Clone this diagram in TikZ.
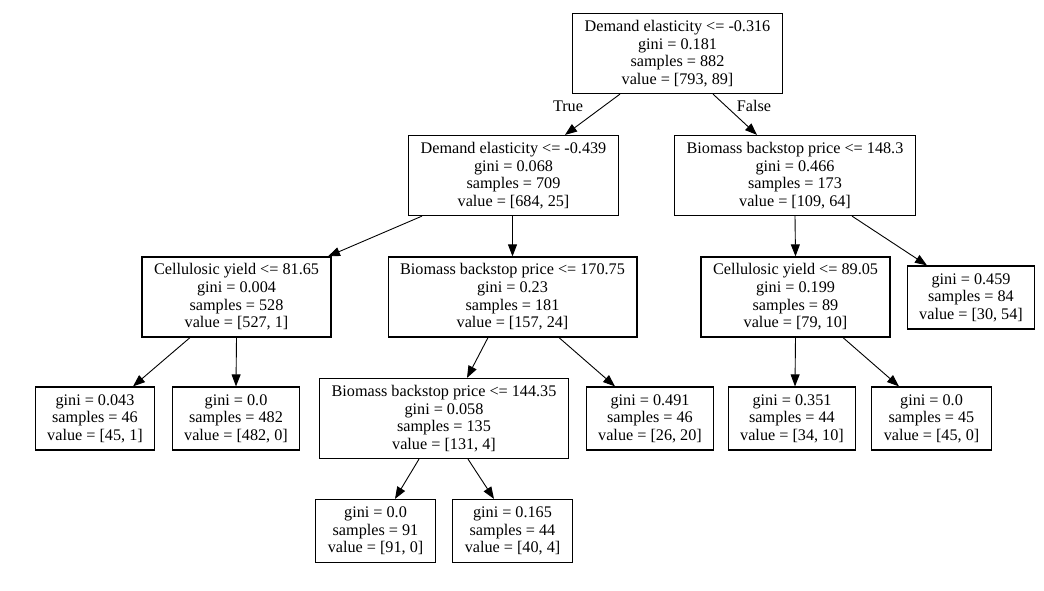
\documentclass[tikz,border=0pt]{standalone}
\usepackage{fontspec}
\setmainfont{Liberation Serif}
\usetikzlibrary{arrows.meta}

\begin{document}
\begin{tikzpicture}[x=1pt, y=-1pt,
    split/.style={draw=black, line width=1.2pt, align=center, inner xsep=12pt, minimum height=80pt, font=\fontsize{16.2}{17.6}\selectfont},
    leaf/.style={split, minimum height=63pt},
    edge/.style={line width=0.9pt, -{Triangle[length=12pt, width=9pt]}},
    lbl/.style={font=\fontsize{16.2}{17}\selectfont}]
\useasboundingbox (0,0) rectangle (1044,591);

% level 0
\node[split] (root) at (677.5,53.5) {Demand elasticity <= -0.316\\gini = 0.181\\samples = 882\\value = [793, 89]};

% level 1
\node[split] (dem2) at (513.5,175.5) {Demand elasticity <= -0.439\\gini = 0.068\\samples = 709\\value = [684, 25]};
\node[split] (bio1) at (795,175.5) {Biomass backstop price <= 148.3\\gini = 0.466\\samples = 173\\value = [109, 64]};

% level 2
\node[split] (cel1) at (236.5,297) {Cellulosic yield <= 81.65\\gini = 0.004\\samples = 528\\value = [527, 1]};
\node[split] (bio2) at (512.5,297) {Biomass backstop price <= 170.75\\gini = 0.23\\samples = 181\\value = [157, 24]};
\node[split] (cel2) at (795.5,297) {Cellulosic yield <= 89.05\\gini = 0.199\\samples = 89\\value = [79, 10]};
\node[leaf] (leaf84) at (971,297.5) {gini = 0.459\\samples = 84\\value = [30, 54]};

% level 3
\node[leaf] (leaf46a) at (95,418.5) {gini = 0.043\\samples = 46\\value = [45, 1]};
\node[leaf] (leaf482) at (236,418.5) {gini = 0.0\\samples = 482\\value = [482, 0]};
\node[split] (bio3) at (444,418.5) {Biomass backstop price <= 144.35\\gini = 0.058\\samples = 135\\value = [131, 4]};
\node[leaf] (leaf46b) at (650,418.5) {gini = 0.491\\samples = 46\\value = [26, 20]};
\node[leaf] (leaf44a) at (792,418.5) {gini = 0.351\\samples = 44\\value = [34, 10]};
\node[leaf] (leaf45) at (931.5,418.5) {gini = 0.0\\samples = 45\\value = [45, 0]};

% level 4
\node[leaf] (leaf91) at (375.5,531) {gini = 0.0\\samples = 91\\value = [91, 0]};
\node[leaf] (leaf44b) at (512.5,531) {gini = 0.165\\samples = 44\\value = [40, 4]};

% edges
\draw[edge] ([xshift=-57.5pt]root.south) -- ([xshift=51.5pt]dem2.north);
\draw[edge] ([xshift=35.5pt]root.south) -- ([xshift=-38pt]bio1.north);
\node[lbl] (true) at (568,106) {True};
\node[lbl] (false) at (754,106) {False};

\draw[edge] ([xshift=-91.5pt]dem2.south) -- ([xshift=91.5pt]cel1.north);
\draw[edge] ([xshift=-1pt]dem2.south) -- (bio2.north);
\draw[edge] (bio1.south) -- (cel2.north);
\draw[edge] ([xshift=57pt]bio1.south) -- ([xshift=-44pt]leaf84.north);

\draw[edge] ([xshift=-46.5pt]cel1.south) -- ([xshift=38pt]leaf46a.north);
\draw[edge] (cel1.south) -- (leaf482.north);
\draw[edge] ([xshift=-24.5pt]bio2.south) -- ([xshift=23pt]bio3.north);
\draw[edge] ([xshift=46.5pt]bio2.south) -- ([xshift=-35pt]leaf46b.north);
\draw[edge] (cel2.south) -- ([xshift=3pt]leaf44a.north);
\draw[edge] ([xshift=47.5pt]cel2.south) -- ([xshift=-32.5pt]leaf45.north);

\draw[edge] ([xshift=-25pt]bio3.south) -- ([xshift=19.5pt]leaf91.north);
\draw[edge] ([xshift=24pt]bio3.south) -- ([xshift=-18.5pt]leaf44b.north);
\end{tikzpicture}
\end{document}
